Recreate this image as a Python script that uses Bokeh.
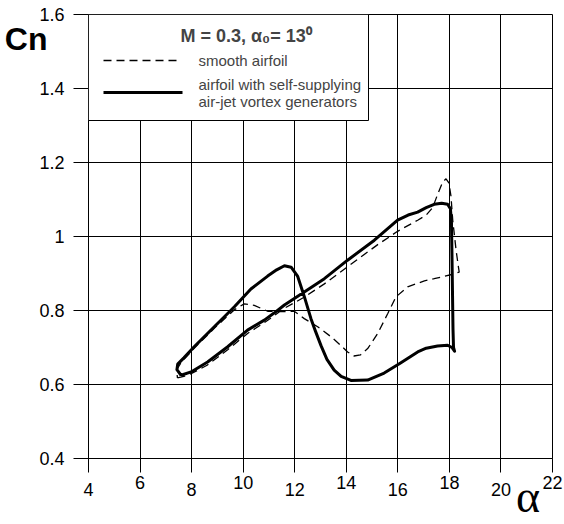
from bokeh.plotting import figure
from bokeh.models import (FixedTicker, LinearAxis, Range1d, NumeralTickFormatter,
                          Label, BoxAnnotation, Arrow)
from bokeh.embed import file_html
from bokeh.resources import INLINE

# ---------------- data ----------------
alpha_ticks = [4, 6, 8, 10, 12, 14, 16, 18, 20, 22]
alpha_high_labels = [6, 10, 14, 18, 22]
alpha_low_labels = [4, 8, 12, 16, 20]
cn_ticks = [0.4, 0.6, 0.8, 1.0, 1.2, 1.4, 1.6]

smooth_alpha = [7.45, 7.7, 8.0, 8.6, 9.4, 10.17, 10.82, 11.6, 12.37, 13.15, 14.18, 15.22,
                15.99, 16.77, 17.10, 17.35, 17.55, 17.74, 17.87, 17.98, 18.06, 18.13, 18.26,
                18.35, 18.38, 18.13, 17.41, 17.03, 16.38, 15.93, 15.61, 15.22, 14.83, 14.55,
                14.30, 14.05, 13.75, 13.41, 12.89, 12.37, 11.98, 11.47, 10.95, 10.43, 10.04,
                9.66, 8.88, 8.10, 7.60, 7.42, 7.45]
smooth_cn = [0.618, 0.622, 0.630, 0.652, 0.694, 0.738, 0.767, 0.806, 0.836, 0.872, 0.925, 0.978,
             1.014, 1.044, 1.058, 1.078, 1.115, 1.147, 1.156, 1.145, 1.110, 1.044, 0.963,
             0.918, 0.904, 0.898, 0.886, 0.880, 0.864, 0.837, 0.792, 0.738, 0.697, 0.680,
             0.677, 0.688, 0.708, 0.729, 0.756, 0.778, 0.798, 0.797, 0.798, 0.814, 0.818,
             0.802, 0.752, 0.698, 0.660, 0.640, 0.618]

vg_alpha = [7.59, 7.98, 8.62, 9.40, 10.17, 10.82, 11.2, 11.6, 12.0, 12.37, 13.15, 14.05, 15.09,
            15.99, 16.40, 16.77, 17.10, 17.41, 17.70, 17.93, 18.04, 18.08, 18.10, 18.12, 18.14,
            18.16, 18.20, 18.10, 17.93, 17.54, 17.10, 16.77, 16.12, 15.47, 14.83, 14.18, 13.80,
            13.53, 13.25, 13.02, 12.80, 12.63, 12.37, 12.11, 11.86, 11.60, 11.30, 10.95, 10.30,
            9.66, 8.88, 8.10, 7.70, 7.46, 7.43, 7.59]
vg_cn = [0.625, 0.634, 0.661, 0.702, 0.747, 0.774, 0.793, 0.815, 0.833, 0.850, 0.886, 0.936, 0.990,
         1.044, 1.058, 1.066, 1.078, 1.087, 1.090, 1.087, 1.075, 1.040, 0.950, 0.850, 0.750,
         0.700, 0.690, 0.700, 0.706, 0.704, 0.698, 0.688, 0.659, 0.631, 0.612, 0.611, 0.622,
         0.639, 0.668, 0.705, 0.745, 0.778, 0.838, 0.893, 0.917, 0.921, 0.910, 0.893, 0.858,
         0.810, 0.756, 0.702, 0.672, 0.655, 0.640, 0.625]

legend_title = "M = 0.3, \u03b1\u2080= 13\u2070"
legend_smooth = "smooth airfoil"
legend_vg_1 = "airfoil with self-supplying"
legend_vg_2 = "air-jet vortex generators"
x_title = "\u03b1"
y_title = "Cn"
x_title_at = 21.05   # where the alpha title sits along the x axis
y_title_at = 1.533   # where the Cn title sits along the y axis

# ---------------- figure ----------------
FONT = "Liberation Sans"
W, H = 564, 524
ML, MR, MT, MB = 88, 12, 14, 66

p = figure(width=W, height=H, output_backend="svg", toolbar_location=None,
           x_range=Range1d(4, 22), y_range=Range1d(0.4, 1.6),
           min_border_left=ML, min_border_right=MR, min_border_top=MT, min_border_bottom=MB,
           background_fill_color="white", border_fill_color="white")
p.outline_line_color = "black"
p.outline_line_width = 1

def style_axis(ax, size="18px", font=FONT, bold=False):
    ax.axis_line_color = "black"
    ax.major_tick_line_color = "black"
    ax.minor_tick_line_color = None
    ax.major_tick_in = 0
    ax.major_label_text_font = font
    ax.major_label_text_font_size = size
    ax.major_label_text_font_style = "bold" if bold else "normal"
    ax.major_label_text_color = "black"

def bare(ax):
    ax.axis_line_color = None
    ax.major_tick_line_color = None
    ax.major_tick_out = 0

# x axis: ticks + upper row of labels
xa = p.xaxis[0]
xa.ticker = FixedTicker(ticks=alpha_ticks)
xa.major_label_overrides = {t: "" for t in alpha_low_labels}
style_axis(xa)
xa.major_tick_out = 14
xa.major_label_standoff = 3

# lower row of labels
xb = LinearAxis(ticker=FixedTicker(ticks=alpha_low_labels))
style_axis(xb)
bare(xb)
xb.major_label_standoff = -9
p.add_layout(xb, "below")

# alpha title
xc = LinearAxis(ticker=FixedTicker(ticks=[x_title_at]),
                major_label_overrides={x_title_at: x_title})
style_axis(xc, size="46px", font="Liberation Serif")
bare(xc)
xc.major_label_standoff = -28
p.add_layout(xc, "below")

# y axis
ya = p.yaxis[0]
ya.ticker = FixedTicker(ticks=cn_ticks)
ya.formatter = NumeralTickFormatter(format="0.[0]")
style_axis(ya)
ya.major_tick_out = 15
ya.major_label_standoff = 9

# Cn title
yc = LinearAxis(ticker=FixedTicker(ticks=[y_title_at]),
                major_label_overrides={y_title_at: y_title})
style_axis(yc, size="32px", bold=True)
bare(yc)
yc.major_label_standoff = -11
p.add_layout(yc, "left")

p.xgrid.ticker = FixedTicker(ticks=alpha_ticks)
p.ygrid.ticker = FixedTicker(ticks=cn_ticks)
for g in (p.xgrid[0], p.ygrid[0]):
    g.grid_line_color = "black"
    g.grid_line_width = 1
    g.grid_line_alpha = 1

# curves
p.line(smooth_alpha, smooth_cn, line_color="black", line_width=1.3, line_dash="8 5")
p.line(vg_alpha, vg_cn, line_color="black", line_width=3, line_join="round")

# ------------- legend (page pixel coordinates, relative to frame) -------------
FL = ML          # frame left in page px
FB = H - MB      # frame bottom in page px

def sx(px):
    return px - FL

def sy(py):
    return FB - py

LEG_R = 368
LEG_FS = "15px"
box = BoxAnnotation(left=sx(88), right=sx(LEG_R), top=sy(14), bottom=sy(120),
                    left_units="screen", right_units="screen", top_units="screen",
                    bottom_units="screen", fill_color="white", fill_alpha=1,
                    line_color="black", line_width=1, line_alpha=1)
p.add_layout(box)

p.add_layout(Label(x=sx(180), y=sy(35), x_units="screen", y_units="screen",
                   text=legend_title, text_font=FONT, text_font_style="bold",
                   text_font_size="18px", text_align="left", text_baseline="middle"))
p.add_layout(Arrow(end=None, x_start=sx(103), y_start=sy(60), x_end=sx(180), y_end=sy(60),
                   start_units="screen", end_units="screen",
                   line_color="black", line_width=1.3, line_dash="8 5"))
p.add_layout(Label(x=sx(198), y=sy(60), x_units="screen", y_units="screen",
                   text=legend_smooth, text_font=FONT, text_font_size=LEG_FS,
                   text_baseline="middle"))
p.add_layout(Arrow(end=None, x_start=sx(103), y_start=sy(92), x_end=sx(182), y_end=sy(92),
                   start_units="screen", end_units="screen",
                   line_color="black", line_width=3))
p.add_layout(Label(x=sx(198), y=sy(84), x_units="screen", y_units="screen",
                   text=legend_vg_1, text_font=FONT, text_font_size=LEG_FS,
                   text_baseline="middle"))
p.add_layout(Label(x=sx(198), y=sy(101), x_units="screen", y_units="screen",
                   text=legend_vg_2, text_font=FONT, text_font_size=LEG_FS,
                   text_baseline="middle"))

open("out.html", "w").write(file_html(p, INLINE))
